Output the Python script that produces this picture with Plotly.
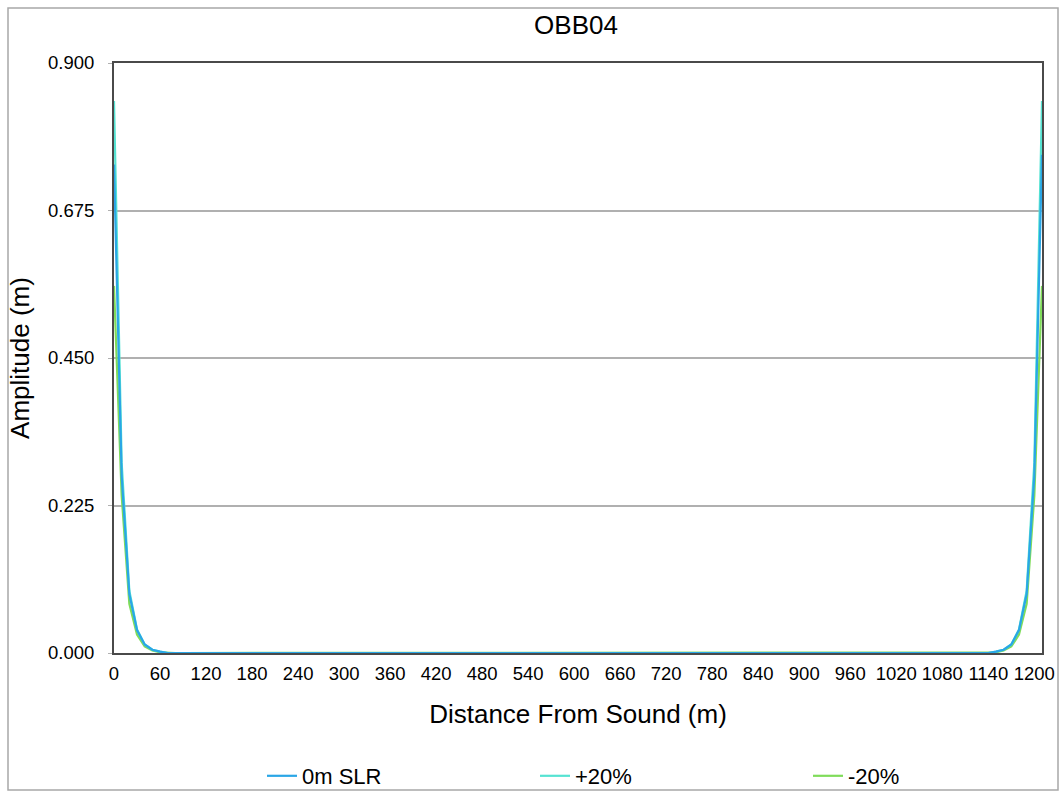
import plotly.graph_objects as go

# Distance along the transect (m), sampled every 10 m
distance = list(range(0, 1220, 10))

# Amplitude near each end of the transect; the interior is flat at zero
head_0m = [0.745, 0.27, 0.09, 0.035, 0.013, 0.005, 0.002]
tail_0m = [0.002, 0.005, 0.013, 0.035, 0.09, 0.27, 0.76]
head_p20 = [0.842, 0.29, 0.095, 0.036, 0.013, 0.005, 0.002]
tail_p20 = [0.002, 0.005, 0.013, 0.036, 0.095, 0.29, 0.842]
head_m20 = [0.56, 0.24, 0.075, 0.028, 0.010, 0.004, 0.001]
tail_m20 = [0.001, 0.004, 0.010, 0.028, 0.075, 0.24, 0.56]
interior = [0.0] * (len(distance) - len(head_0m) - len(tail_0m))

amp_0m = head_0m + interior + tail_0m
amp_p20 = head_p20 + interior + tail_p20
amp_m20 = head_m20 + interior + tail_m20

series_names = ["0m SLR", "+20%", "-20%"]
series_colors = ["#2aa6e6", "#55e3d2", "#7fdc5a"]

y_ticks = [0.0, 0.225, 0.45, 0.675, 0.9]
x_ticks = list(range(0, 1260, 60))

FONT = "Liberation Sans, Arial, sans-serif"

fig = go.Figure()
# draw order: -20% underneath, 0m SLR on top; legend keeps the original order
for name, vals, color, rank in [
    (series_names[2], amp_m20, series_colors[2], 3),
    (series_names[1], amp_p20, series_colors[1], 2),
    (series_names[0], amp_0m, series_colors[0], 1),
]:
    fig.add_trace(go.Scatter(
        x=distance, y=vals, mode="lines", name=name,
        line=dict(color=color, width=2.2),
        legendrank=rank,
    ))

L, R, T, B = 114, 19, 63, 140
W, H = 1061, 793
pw, ph = W - L - R, H - T - B

def px_x(px):
    return (px - L) / pw

def px_y(py):
    return (H - B - py) / ph

fig.update_layout(
    width=W, height=H,
    margin=dict(l=L, r=R, t=T, b=B, autoexpand=False),
    paper_bgcolor="white", plot_bgcolor="white",
    font=dict(family=FONT, color="black"),
    title=dict(text="OBB04", xref="paper", x=px_x(576), xanchor="center",
               y=1 - 25 / H, yanchor="middle",
               font=dict(size=26, family=FONT, color="black")),
    showlegend=True,
    legend=dict(orientation="h", x=px_x(262), y=px_y(776),
                xanchor="left", yanchor="middle",
                entrywidth=228, entrywidthmode="pixels",
                font=dict(size=22, family=FONT, color="black"),
                traceorder="normal", bgcolor="rgba(0,0,0,0)"),
    xaxis=dict(
        range=[0, 1210], tickvals=x_ticks, ticktext=[str(v) for v in x_ticks],
        showgrid=False, zeroline=False,
        showline=True, mirror=True, linecolor="#4a4a4a", linewidth=2,
        ticks="", ticklabelstandoff=3,
        tickfont=dict(size=18.5, family=FONT, color="black"),
        title=dict(text="Distance From Sound (m)", standoff=22,
                   font=dict(size=26, family=FONT, color="black")),
    ),
    yaxis=dict(
        range=[0, 0.9], tickvals=y_ticks, tickformat=".3f",
        showgrid=True, gridcolor="#b0b0b0", gridwidth=1.5,
        zeroline=False,
        showline=True, mirror=True, linecolor="#4a4a4a", linewidth=2,
        ticks="outside", ticklen=4, tickcolor="#b0b0b0",
        ticklabelstandoff=10,
        tickfont=dict(size=18.5, family=FONT, color="black"),
        title=dict(text="Amplitude (m)", standoff=11,
                   font=dict(size=26, family=FONT, color="black")),
    ),
    shapes=[dict(type="rect", xref="paper", yref="paper",
                 x0=px_x(8), x1=px_x(1058), y0=px_y(790), y1=px_y(8),
                 line=dict(color="#a8a8a8", width=1.5), layer="below")],
)

fig.write_html("out.html")
